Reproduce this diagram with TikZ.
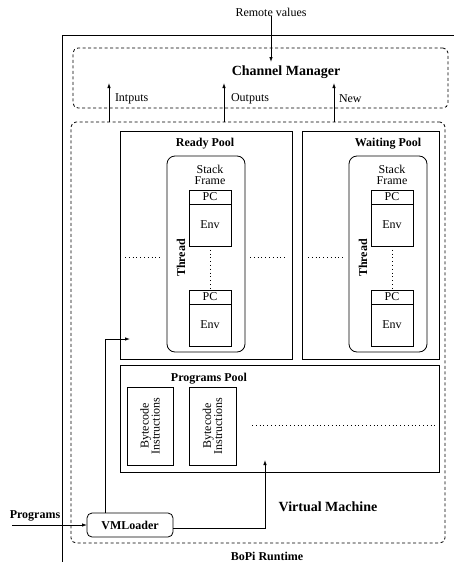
\documentclass[tikz,border=0pt]{standalone}
\usepackage{fontspec}
\setmainfont{Liberation Serif}
\usetikzlibrary{arrows.meta}

\tikzset{
  every node/.style={font=\fontsize{12}{11}\selectfont},
  box/.style={draw, line width=0.8pt, anchor=north west},
  dashbox/.style={draw, line width=0.8pt, dash pattern=on 3pt off 2.5pt,
    rounded corners=5pt, anchor=north west},
  threadbox/.style={draw, line width=0.8pt, rounded corners=8pt, anchor=north west},
  dotline/.style={line width=0.8pt, dash pattern=on 0.8pt off 3pt},
  arr/.style={-{Latex[length=5pt,width=3.5pt]}, line width=0.8pt},
  bold/.style={font=\fontsize{12}{11}\selectfont\bfseries},
  big/.style={font=\fontsize{14}{14}\selectfont\bfseries},
}

\begin{document}
\begin{tikzpicture}[x=1pt, y=1pt, yscale=-1, inner sep=0pt, outer sep=0pt]
\clip (0,0) rectangle (454,562);
% outer frame
\draw[line width=0.8pt] (62,600) -- (62,35) -- (500,35);

% channel manager
\node[dashbox, minimum width=375pt, minimum height=60pt] (chanbox) at (73,48) {};
\node[big] (chanmgr) at (286,72) {Channel Manager};
\node (remote) at (271,12) {Remote values};
\coordinate (remoteend) at (271,62);
\draw[arr] (remote) -- (remoteend);

% virtual machine
\node[dashbox, minimum width=374pt, minimum height=421pt] (vmbox) at (71,122) {};
\node[big] (vmlabel) at (328,507) {Virtual Machine};
\node[bold] (runtime) at (267,556) {BoPi Runtime};

\coordinate (inend) at (109,83);
\coordinate (outend) at (224,83);
\coordinate (newend) at (334,83);
\draw[arr] (inend |- vmbox.north) -- (inend);
\draw[arr] (outend |- vmbox.north) -- (outend);
\draw[arr] (newend |- vmbox.north) -- (newend);
\node[anchor=west] (intputs) at (115,99) {Intputs};
\node[anchor=west] (outputs) at (231,99) {Outputs};
\node[anchor=west] (newlbl) at (339,99) {New};

% ready pool
\node[box, minimum width=172pt, minimum height=228pt] (readypool) at (120,131) {};
\node[bold] (readylbl) at (205,144) {Ready Pool};
\node[threadbox, minimum width=78pt, minimum height=196pt] (rthreadbox) at (167,156) {};
\node[bold, rotate=90] (rthread) at (181,258) {Thread};
\node[align=center] (rstack) at (210,175) {Stack\\Frame};
\node[box, minimum width=42pt, minimum height=14pt] (rpc1) at (189,190) {PC};
\node[box, minimum width=42pt, minimum height=42pt, anchor=north] (renv1) at (rpc1.south) {Env};
\node[box, minimum width=42pt, minimum height=14pt] (rpc2) at (189,290) {PC};
\node[box, minimum width=42pt, minimum height=42pt, anchor=north] (renv2) at (rpc2.south) {Env};
\draw[dotline] (renv1) -- (rpc2);
\draw[dotline] (125,257) -- (162,257);
\draw[dotline] (250,257) -- (287,257);

% waiting pool
\node[box, minimum width=137pt, minimum height=228pt] (waitpool) at (302,131) {};
\node[bold] (waitlbl) at (388,144) {Waiting Pool};
\node[threadbox, minimum width=78pt, minimum height=196pt] (wthreadbox) at (349,156) {};
\node[bold, rotate=90] (wthread) at (363,258) {Thread};
\node[align=center] (wstack) at (392,175) {Stack\\Frame};
\node[box, minimum width=42pt, minimum height=14pt] (wpc1) at (371,190) {PC};
\node[box, minimum width=42pt, minimum height=42pt, anchor=north] (wenv1) at (wpc1.south) {Env};
\node[box, minimum width=42pt, minimum height=14pt] (wpc2) at (371,290) {PC};
\node[box, minimum width=42pt, minimum height=42pt, anchor=north] (wenv2) at (wpc2.south) {Env};
\draw[dotline] (wenv1) -- (wpc2);
\draw[dotline] (308,257) -- (343,257);

% programs pool
\node[box, minimum width=319pt, minimum height=107pt] (progpool) at (120,365) {};
\node[bold] (proglbl) at (209,379) {Programs Pool};
\node[box, minimum width=46pt, minimum height=78pt] (bcode1) at (127,387) {};
\node[rotate=90, align=center] (bcode1txt) at (bcode1.center) {Bytecode\\Instructions};
\node[box, minimum width=47pt, minimum height=78pt] (bcode2) at (189,387) {};
\node[rotate=90, align=center] (bcode2txt) at (bcode2.center) {Bytecode\\Instructions};
\draw[dotline] (252,425) -- (435,425);

% loader
\node[dashbox, dash pattern=, minimum width=86pt, minimum height=24pt, bold] (vmloader) at (87,513) {VMLoader};
\node[bold] (programs) at (35,516) {Programs};
\coordinate (progin) at (12,525);
\coordinate (poolin) at (265,460);
\coordinate (readyin) at (130,339);
\draw[arr] (progin) -- (vmloader.west);
\draw[arr] ([yshift=3pt]vmloader.east) -| (poolin);
\draw[arr] ([xshift=-25pt]vmloader.north) |- (readyin);

\end{tikzpicture}
\end{document}
